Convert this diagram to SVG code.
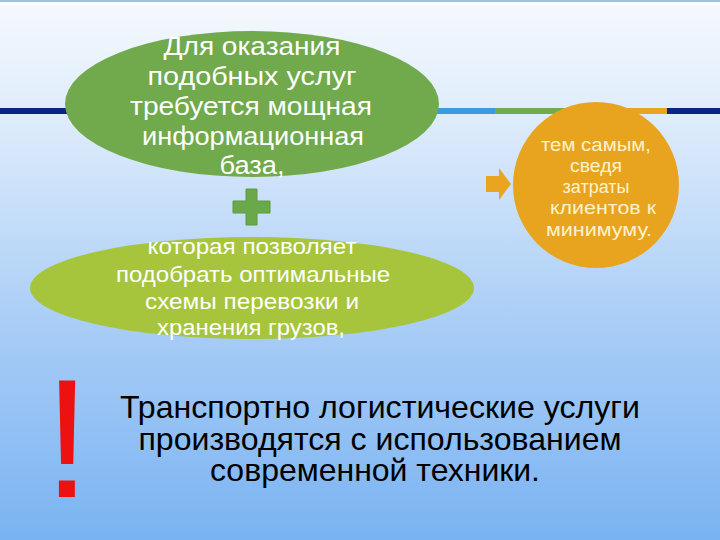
<svg xmlns="http://www.w3.org/2000/svg" width="720" height="540" viewBox="0 0 720 540">
  <defs>
    <linearGradient id="bg" x1="0" y1="0" x2="0" y2="1">
      <stop offset="0" stop-color="#f6f9fe"/>
      <stop offset="0.22" stop-color="#deecfb"/>
      <stop offset="0.6" stop-color="#a9cdf6"/>
      <stop offset="1" stop-color="#7ab3f2"/>
    </linearGradient>
    <style>
      text { font-family: "Liberation Sans", Arial, sans-serif; text-anchor: middle; }
      .w1 { fill: #ffffff; font-size: 25px; }
      .w2 { fill: #ffffff; font-size: 22px; }
      .c { fill: #fdf2cc; font-size: 18px; }
      .b { fill: #000000; font-size: 32px; }
    </style>
  </defs>
  <rect x="0" y="0" width="720" height="540" fill="url(#bg)"/>
  <rect x="0" y="0" width="720" height="2" fill="#9ec4d6"/>
  <rect x="0" y="3" width="720" height="2" fill="#ffffff" opacity="0.8"/>

  <g id="band">
    <rect x="0" y="108" width="120" height="6" fill="#0b2585"/>
    <rect x="420" y="108" width="75" height="6" fill="#3c9be0"/>
    <rect x="495" y="108" width="80" height="6" fill="#72ab4f"/>
    <rect x="575" y="108" width="92" height="6" fill="#e8a520"/>
    <rect x="667" y="108" width="53" height="6" fill="#0b2585"/>
  </g>

  <g id="node-base">
    <ellipse cx="252" cy="104" rx="187" ry="73" fill="#71a94d"/>
    <text class="w1" x="252" y="55" textLength="177" lengthAdjust="spacingAndGlyphs">Для оказания</text>
    <text class="w1" x="252" y="85" textLength="209" lengthAdjust="spacingAndGlyphs">подобных услуг</text>
    <text class="w1" x="251" y="115" textLength="242" lengthAdjust="spacingAndGlyphs">требуется мощная</text>
    <text class="w1" x="253" y="145" textLength="222" lengthAdjust="spacingAndGlyphs">информационная</text>
    <text class="w1" x="252" y="174" textLength="65" lengthAdjust="spacingAndGlyphs">база,</text>
  </g>

  <g id="node-schemes">
    <ellipse cx="252" cy="288" rx="222" ry="51" fill="#a6c53c"/>
    <text class="w2" x="252" y="254" textLength="209" lengthAdjust="spacingAndGlyphs">которая позволяет</text>
    <text class="w2" x="253" y="282" textLength="274" lengthAdjust="spacingAndGlyphs">подобрать оптимальные</text>
    <text class="w2" x="252" y="309" textLength="214" lengthAdjust="spacingAndGlyphs">схемы перевозки и</text>
    <text class="w2" x="251" y="335" textLength="188" lengthAdjust="spacingAndGlyphs">хранения грузов,</text>
  </g>

  <g id="node-result">
    <circle cx="596" cy="185" r="83" fill="#e8a41f"/>
    <text class="c" x="596" y="151" textLength="110" lengthAdjust="spacingAndGlyphs">тем самым,</text>
    <text class="c" x="596" y="172" textLength="52" lengthAdjust="spacingAndGlyphs">сведя</text>
    <text class="c" x="596" y="193" textLength="67" lengthAdjust="spacingAndGlyphs">затраты</text>
    <text class="c" x="603" y="214" textLength="106" lengthAdjust="spacingAndGlyphs">клиентов к</text>
    <text class="c" x="599" y="236" textLength="106" lengthAdjust="spacingAndGlyphs">минимуму.</text>
  </g>

  <g id="connectors">
    <path d="M246,189 H257 V201 H270 V213 H257 V225 H246 V213 H233 V201 H246 Z" fill="#6aa94a" stroke="#5c9a3e" stroke-width="1"/>
    <path d="M486,176 H499 V168 L511,184 L499,200 V192 H486 Z" fill="#e9a420"/>
  </g>

  <g id="node-note">
    <text x="67" y="497" style="font-size:168px;fill:#ee1111">!</text>
    <text class="b" x="380" y="418" textLength="520" lengthAdjust="spacingAndGlyphs">Транспортно логистические услуги</text>
    <text class="b" x="380" y="450" textLength="483" lengthAdjust="spacingAndGlyphs">производятся с использованием</text>
    <text class="b" x="375" y="481" textLength="330" lengthAdjust="spacingAndGlyphs">современной техники.</text>
  </g>
</svg>
